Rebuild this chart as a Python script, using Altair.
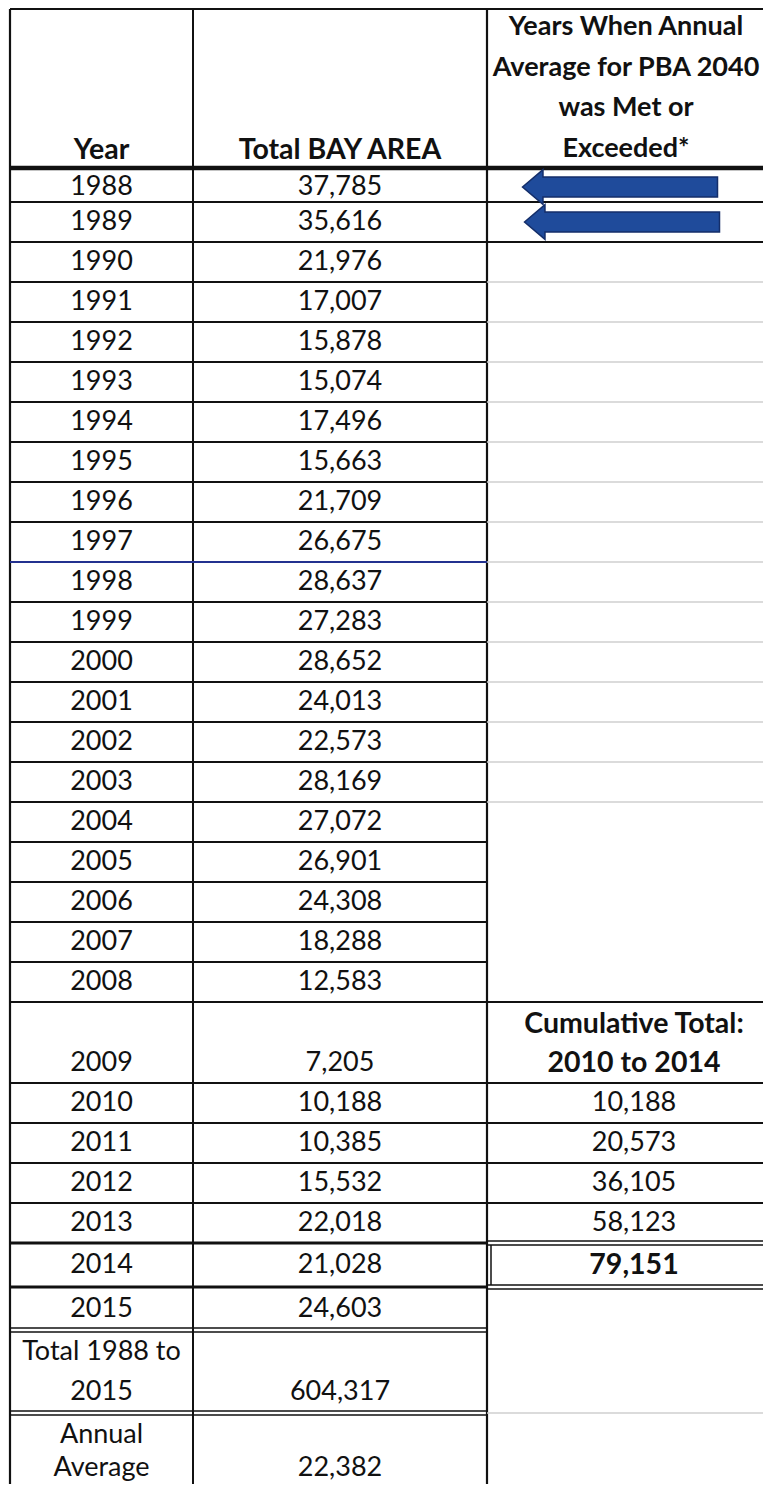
import altair as alt
import pandas as pd

# ---------------- data ----------------
years = ["1988", "1989", "1990", "1991", "1992", "1993", "1994", "1995", "1996", "1997",
         "1998", "1999", "2000", "2001", "2002", "2003", "2004", "2005", "2006", "2007",
         "2008", "2009", "2010", "2011", "2012", "2013", "2014", "2015"]
totals = [37785, 35616, 21976, 17007, 15878, 15074, 17496, 15663, 21709, 26675,
          28637, 27283, 28652, 24013, 22573, 28169, 27072, 26901, 24308, 18288,
          12583, 7205, 10188, 10385, 15532, 22018, 21028, 24603]
cum_years = ["2010", "2011", "2012", "2013", "2014"]
cumulative = [10188, 20573, 36105, 58123, 79151]
met_years = ["1988", "1989"]
total_label = ["Total 1988 to", "2015"]
total_value = 604317
avg_label = ["Annual", "Average"]
avg_value = 22382
header_col1 = "Year"
header_col2 = "Total BAY AREA"
header_col3 = ["Years When Annual", "Average for PBA 2040", "was Met or", "Exceeded*"]
cum_header = ["Cumulative Total:", "2010 to 2014"]

# ---------------- layout (page pixel space) ----------------
PAGE = 8
W, H = 755, 1476
X_L, X_1, X_2, X_R = 10, 193, 487, 781
C1 = (X_L + X_1) / 2
C2 = (X_1 + X_2) / 2
C3 = 634
C3_HDR = 626
Y_TOP = 9
HDR = 168
ROW = 40
FONT = "Lato"
FS = 27
FS_B = 28.5
FS_HDR3 = 27
BLACK = "#111111"
GRAY = "#cfcfcf"
BLUE_LINE = "#23318f"

special_h = {"1988": 34, "2009": 81, "2014": 44, "2015": 43}
row_heights = [special_h.get(y, ROW) for y in years] + [83, 83]
bounds = [HDR]
for h in row_heights:
    bounds.append(bounds[-1] + h)

row_names = years + ["TOTAL", "AVG"]

# ---------------- rules ----------------
rules = []


def hline(y, x1, x2, c=BLACK, w=2.0):
    rules.append(dict(x1=x1, x2=x2, y1=y, y2=y, c=c, w=w))


def vline(x, y1, y2, c=BLACK, w=2.0):
    rules.append(dict(x1=x, x2=x, y1=y1, y2=y2, c=c, w=w))


hline(Y_TOP, X_L, X_R, BLACK, 2.2)
vline(X_L, Y_TOP, 1600, BLACK, 2.2)
vline(X_1, Y_TOP, 1600, BLACK, 2.0)
vline(X_2, Y_TOP, 1600, BLACK, 2.2)
hline(HDR, X_L, X_R, BLACK, 4.5)

gray_rows = years[years.index("1990"):years.index("2003") + 1]
black_c3 = ["1988", "1989", "2008", "2009", "2010", "2011", "2012"]
double_c3 = ["2013", "2014"]
double_c12 = ["2015", "TOTAL"]
thick_c12 = ["2013", "2014"]

for i, name in enumerate(row_names[:-1]):
    b = bounds[i + 1]
    if name == "1997":
        hline(b, X_L, X_2, BLUE_LINE, 2.0)
    elif name in double_c12:
        hline(b - 2, X_L, X_2, BLACK, 1.6)
        hline(b + 2, X_L, X_2, BLACK, 1.6)
    elif name in thick_c12:
        hline(b, X_L, X_2, BLACK, 3.0)
    else:
        hline(b, X_L, X_2, BLACK, 2.0)
    if name in black_c3:
        hline(b, X_2, X_R, BLACK, 2.0)
    elif name in double_c3:
        hline(b - 2, X_2, X_R, BLACK, 1.6)
        hline(b + 2, X_2, X_R, BLACK, 1.6)
    elif name in gray_rows or name == "TOTAL":
        hline(b, X_2, X_R, GRAY, 1.6)

i14 = years.index("2014")
vline(X_2 + 4, bounds[i14] + 2, bounds[i14 + 1] - 2, BLACK, 1.5)

rules_df = pd.DataFrame(rules)

# ---------------- texts ----------------
texts = []


def put(x, y, t, bold=False, kind="body"):
    texts.append(dict(x=x, y=y, t=t, bold=bold, kind=kind))


H_LINE0, H_GAP = 27, 40.5
for k, line in enumerate(header_col3):
    put(C3_HDR, H_LINE0 + k * H_GAP, line, True, "hdr3")
put(C1, H_LINE0 + 3 * H_GAP + 1, header_col1, True)
put(C2, H_LINE0 + 3 * H_GAP + 1, header_col2, True)

for i, name in enumerate(row_names):
    top, bot = bounds[i], bounds[i + 1]
    hgt = bot - top
    l1 = top + 0.27 * hgt
    l2 = top + 0.75 * hgt
    mid = (top + bot) / 2 + (2 if i == 0 else 0)
    if name == "TOTAL":
        put(C1, l1, total_label[0])
        put(C1, l2, total_label[1])
        put(C2, l2, f"{total_value:,}")
    elif name == "AVG":
        a1, a2 = top + 22, top + 55
        put(C1, a1, avg_label[0])
        put(C1, a2, avg_label[1])
        put(C2, a2, f"{avg_value:,}")
    elif name == "2009":
        put(C1, l2, name)
        put(C2, l2, f"{totals[i]:,}")
        put(C3, l1, cum_header[0], True)
        put(C3, l2, cum_header[1], True)
    else:
        put(C1, mid, name)
        put(C2, mid, f"{totals[i]:,}")
        if name in cum_years:
            v = cumulative[cum_years.index(name)]
            put(C3, mid, f"{v:,}", name == cum_years[-1])

text_df = pd.DataFrame(texts)

# ---------------- arrows ----------------
arrow_rows = []
for name in met_years:
    i = years.index(name)
    arrow_rows.append(dict(x=620 + 2 * i, y=(bounds[i] + bounds[i + 1]) / 2 + (2 if i == 0 else 0)))
arrow_df = pd.DataFrame(arrow_rows)
ARROW = ("M -1 0 L -0.79 -0.178 L -0.79 -0.103 L 1 -0.103 L 1 0.103 "
         "L -0.79 0.103 L -0.79 0.178 Z")

# ---------------- chart ----------------
xs = alt.Scale(domain=[PAGE, PAGE + W], nice=False, zero=False)
ys = alt.Scale(domain=[PAGE, PAGE + H], nice=False, zero=False, reverse=True)

rule_layer = alt.Chart(rules_df).mark_rule().encode(
    x=alt.X("x1:Q", scale=xs, axis=None),
    x2="x2:Q",
    y=alt.Y("y1:Q", scale=ys, axis=None),
    y2="y2:Q",
    color=alt.Color("c:N", scale=None),
    strokeWidth=alt.StrokeWidth("w:Q", scale=None),
)


def text_layer(df, size, weight):
    return alt.Chart(df).mark_text(
        font=FONT, fontSize=size, fontWeight=weight, align="center",
        baseline="middle", color=BLACK
    ).encode(
        x=alt.X("x:Q", scale=xs, axis=None),
        y=alt.Y("y:Q", scale=ys, axis=None),
        text="t:N",
    )


normal_layer = text_layer(text_df[~text_df["bold"]], FS, "normal")
bold_layer = text_layer(text_df[text_df["bold"] & (text_df["kind"] == "body")], FS_B, "bold")
hdr3_layer = text_layer(text_df[text_df["kind"] == "hdr3"], FS_HDR3, "bold")

arrow_layer = alt.Chart(arrow_df).mark_point(
    shape=ARROW, size=195 * 195, filled=True, fill="#1f4b9b", stroke="#142e6a",
    strokeWidth=1.5, opacity=1
).encode(
    x=alt.X("x:Q", scale=xs, axis=None),
    y=alt.Y("y:Q", scale=ys, axis=None),
)

chart = alt.layer(rule_layer, arrow_layer, normal_layer, bold_layer, hdr3_layer).properties(
    width=W, height=H, padding=0, autosize=alt.AutoSizeParams(type="none")
).configure_view(stroke=None)

chart.save("out.html", embed_options={"renderer": "svg", "actions": False})
